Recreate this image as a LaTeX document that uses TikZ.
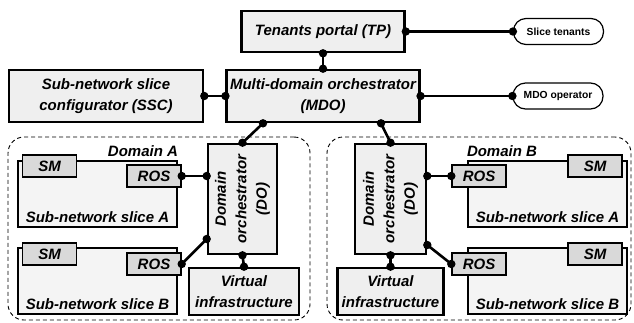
\documentclass[tikz,border=0pt]{standalone}
\usepackage{fontspec}
\setmainfont{Liberation Sans}
\usetikzlibrary{calc}

\definecolor{boxgray}{HTML}{EFEFEF}
\definecolor{slicegray}{HTML}{F4F4F4}
\definecolor{taggray}{HTML}{D9D9D9}

\tikzset{
  box/.style={draw, fill=boxgray, line width=2.6pt, align=center},
  slicebox/.style={draw, fill=slicegray, line width=2.2pt, minimum width=159pt, minimum height=66pt},
  tag/.style={draw, fill=taggray, line width=1.4pt, minimum width=54pt, minimum height=22pt, inner sep=0pt},
  actor/.style={draw, fill=white, rounded corners=12.5pt, line width=1.2pt, minimum width=90pt, minimum height=26pt,
    font=\fontsize{10.3}{12}\selectfont\bfseries\upshape},
  domainbox/.style={draw, dash pattern=on 4pt off 3pt, line width=0.9pt, rounded corners=16pt},
  wire/.style={line width=2.6pt},
}

% connector with a dot on both ends
\newcommand{\joint}[2]{\draw[wire] (#1) -- (#2); \fill (#1) circle (4.2pt) (#2) circle (4.2pt);}

\begin{document}
\begin{tikzpicture}[x=1pt,y=-1pt,font=\fontsize{15}{20.5}\selectfont\bfseries\itshape]
\useasboundingbox (0,0) rectangle (634,322);

\node[box, minimum width=163pt, minimum height=41pt] (tp) at (323,31.5) {Tenants portal (TP)};
\node[actor] (tenants) at (558.5,31.5) {Slice tenants};
\node[box, minimum width=190pt, minimum height=52pt] (mdo) at (323,96) {Multi-domain orchestrator\\(MDO)};
\node[actor] (operator) at (558,96) {MDO operator};
\node[box, minimum width=194pt, minimum height=52pt] (ssc) at (106,96) {Sub-network slice\\configurator (SSC)};

% domain A
\node[domainbox, minimum width=302pt, minimum height=183pt] (dza) at (159,228.5) {};
\node (laba) at (143,151) {Domain A};

\node[slicebox] (slaa) at (97.5,194) {};
\node[anchor=base] (txtaa) at ([yshift=6pt]slaa.south) {Sub-network slice A};
\node[tag] (smaa) at (49.5,166) {SM};
\node[tag] (rosaa) at (154,176) {ROS};

\node[slicebox] (slba) at (97.5,281) {};
\node[anchor=base] (txtba) at ([yshift=6pt]slba.south) {Sub-network slice B};
\node[tag] (smba) at (49.5,254) {SM};
\node[tag] (rosba) at (154,264) {ROS};

\node[box, minimum width=69pt, minimum height=110pt] (doa) at (242.5,199) {};
\node[rotate=90, align=center] (txtdoa) at (doa) {Domain\\orchestrator\\(DO)};
\node[box, minimum width=110pt, minimum height=47pt] (via) at (244,291.5) {Virtual\\infrastructure};

% domain B
\node[domainbox, minimum width=304pt, minimum height=183pt] (dzb) at (479,228.5) {};
\node (labb) at (502,151) {Domain B};

\node[slicebox] (slab) at (547.5,194) {};
\node[anchor=base] (txtab) at ([yshift=6pt]slab.south) {Sub-network slice A};
\node[tag] (smab) at (595,166) {SM};
\node[tag] (rosab) at (479,176) {ROS};

\node[slicebox] (slbb) at (547.5,281) {};
\node[anchor=base] (txtbb) at ([yshift=6pt]slbb.south) {Sub-network slice B};
\node[tag] (smbb) at (595,254) {SM};
\node[tag] (rosbb) at (479,264) {ROS};

\node[box, minimum width=71pt, minimum height=110pt] (dob) at (390.5,199) {};
\node[rotate=90, align=center] (txtdob) at (dob) {Domain\\orchestrator\\(DO)};
\node[box, minimum width=106pt, minimum height=47pt] (vib) at (390.5,291.5) {Virtual\\infrastructure};

\joint{tp.east}{tenants.west}
\joint{tp.south}{mdo.north}
\joint{mdo.east}{operator.west}
\joint{ssc.east}{mdo.west}
\joint{[xshift=-60pt]mdo.south}{doa.north}
\joint{[xshift=58pt]mdo.south}{dob.north}

\joint{rosaa.east}{rosaa.east -| doa.west}
\joint{rosba.east}{[yshift=-40pt]doa.west}
\joint{doa.south}{via.north}

\joint{rosab.west -| dob.east}{rosab.west}
\joint{[yshift=-46pt]dob.east}{rosbb.west}
\joint{dob.south}{vib.north}

\end{tikzpicture}
\end{document}
